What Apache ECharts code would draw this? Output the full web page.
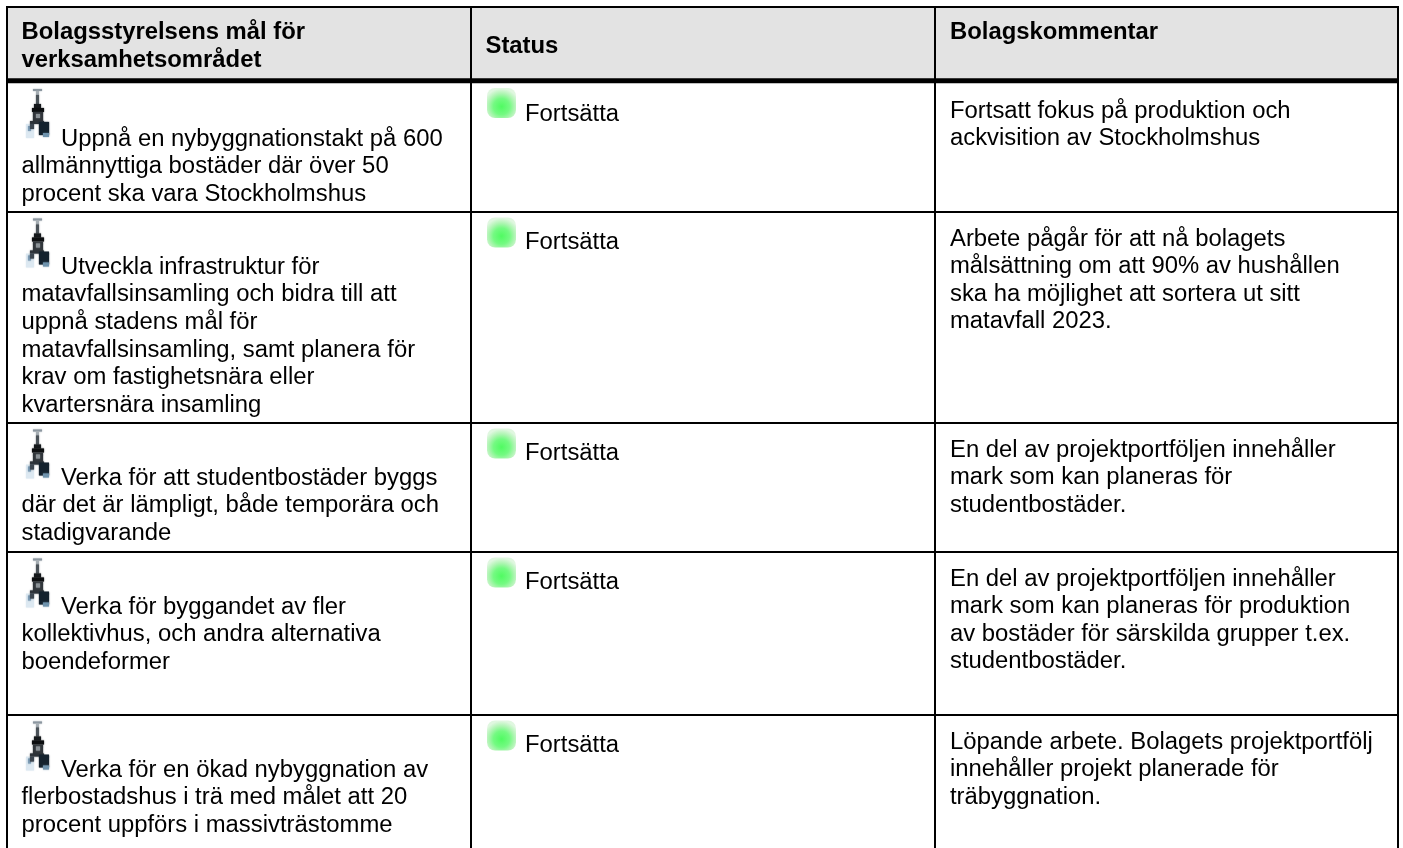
<!DOCTYPE html>
<html>
<head>
    <meta charset="utf-8">
    <title>Bolagsstyrelsens mål</title>
    <script src="https://cdn.jsdelivr.net/npm/echarts@6/dist/echarts.min.js"></script>
</head>
<style>
    *{
        margin: 0;
        padding: 0;
    }
    #main{
        width: 1403px;
        height: 848px;
    }
</style>
<body>
<div id="main"></div>
<script>
    // table content, line breaks as in the picture
    let headers = [
        ['Bolagsstyrelsens mål för', 'verksamhetsområdet'],
        ['Status'],
        ['Bolagskommentar']
    ];
    let goals = [
        ['Uppnå en nybyggnationstakt på 600', 'allmännyttiga bostäder där över 50', 'procent ska vara Stockholmshus'],
        ['Utveckla infrastruktur för', 'matavfallsinsamling och bidra till att', 'uppnå stadens mål för', 'matavfallsinsamling, samt planera för', 'krav om fastighetsnära eller', 'kvartersnära insamling'],
        ['Verka för att studentbostäder byggs', 'där det är lämpligt, både temporära och', 'stadigvarande'],
        ['Verka för byggandet av fler', 'kollektivhus, och andra alternativa', 'boendeformer'],
        ['Verka för en ökad nybyggnation av', 'flerbostadshus i trä med målet att 20', 'procent uppförs i massivträstomme']
    ];
    let statuses = ['Fortsätta', 'Fortsätta', 'Fortsätta', 'Fortsätta', 'Fortsätta'];
    let comments = [
        ['Fortsatt fokus på produktion och', 'ackvisition av Stockholmshus'],
        ['Arbete pågår för att nå bolagets', 'målsättning om att 90% av hushållen', 'ska ha möjlighet att sortera ut sitt', 'matavfall 2023.'],
        ['En del av projektportföljen innehåller', 'mark som kan planeras för', 'studentbostäder.'],
        ['En del av projektportföljen innehåller', 'mark som kan planeras för produktion', 'av bostäder för särskilda grupper t.ex.', 'studentbostäder.'],
        ['Löpande arbete. Bolagets projektportfölj', 'innehåller projekt planerade för', 'träbyggnation.']
    ];

    // layout, in axis units (1 unit = 1 px)
    let colEdges = [7, 471, 935, 1398];
    let rowEdges = [7, 81, 212, 423, 552, 715, 848];
    let lineGap = 27.6;
    let fontSize = 23.85;
    let baselineShift = 16; // text is placed by its top, y below is the baseline
    let font = '"Liberation Sans", Arial, sans-serif';

    let chart = echarts.init(document.getElementById('main'));

    function textEl(api, x, y, str, bold) {
        let p = api.coord([x, y - baselineShift]);
        return {
            type: 'text',
            x: p[0],
            y: p[1],
            style: {
                text: str,
                fill: '#000',
                font: (bold ? 'bold ' : '') + fontSize + 'px ' + font,
                textAlign: 'left',
                verticalAlign: 'top'
            }
        };
    }

    function linesEl(api, x, y, lines, bold, firstX) {
        return lines.map((s, i) => textEl(api, i == 0 && firstX ? firstX : x, y + i * lineGap, s, bold));
    }

    // small town hall tower, 25x50
    function towerEl(api, x, y) {
        let p = api.coord([x, y]);
        let r = (a, b, w, h, c) => ({type: 'rect', shape: {x: a, y: b, width: w, height: h}, style: {fill: c, shadowBlur: 1.5, shadowColor: c}});
        return {
            type: 'group',
            x: p[0],
            y: p[1],
            children: [
                r(1, 36, 8, 14, '#dce8f1'),
                r(3, 38, 3, 5, '#7d9cb5'),
                r(8, 1, 9, 2, '#8c97a0'),
                r(11, 3, 3, 4, '#a5adb3'),
                r(11, 7, 3, 9, '#4a5258'),
                r(9, 16, 7, 4, '#14181b'),
                r(7, 20, 12, 4, '#0c0e10'),
                r(8, 24, 10, 10, '#30353a'),
                r(11, 26, 4, 4, '#8a9196'),
                r(5, 33, 14, 3, '#2c3238'),
                r(5, 36, 4, 5, '#3c4650'),
                r(14, 34, 10, 13, '#14222e'),
                r(18, 45, 6, 4, '#6f93ad')
            ]
        };
    }

    // green status light, 29x30
    function lightEl(api, x, y) {
        let p = api.coord([x, y]);
        return {
            type: 'rect',
            x: p[0],
            y: p[1],
            shape: {x: 0, y: 0, width: 29, height: 30, r: 8},
            style: {
                fill: new echarts.graphic.RadialGradient(0.5, 0.62, 0.62, [
                    {offset: 0, color: '#50fb62'},
                    {offset: 0.45, color: '#74fa82'},
                    {offset: 0.72, color: '#aef5b2'},
                    {offset: 1, color: '#e0f7e0'}
                ])
            }
        };
    }

    function renderCell(params, api) {
        let col = api.value(0);
        let row = api.value(1);
        // inner top of the row: below the thick line for the first row
        let top = row == 0 ? 83.5 : rowEdges[row + 1] + 1;
        let children = [];
        if (row < 0) {
            let a = api.coord([colEdges[col], rowEdges[0]]);
            let b = api.coord([colEdges[col + 1], rowEdges[1]]);
            children.push({type: 'rect', shape: {x: a[0], y: a[1], width: b[0] - a[0], height: b[1] - a[1]}, style: {fill: '#e3e3e3'}});
            let ys = [36.5, 50.5, 36];
            let xs = [21.5, 485.5, 950];
            children = children.concat(linesEl(api, xs[col], ys[col], headers[col], true));
        } else if (col == 0) {
            children.push(towerEl(api, 25, top + 4.5));
            children = children.concat(linesEl(api, 21.5, top + (row == 0 ? 59.5 : 58.3), goals[row], false, 61));
        } else if (col == 1) {
            children.push(lightEl(api, 487, top + 4.5));
            children.push(textEl(api, 525, top + (row == 0 ? 34.5 : 33.5), statuses[row], false));
        } else {
            children = children.concat(linesEl(api, 950, top + (row == 0 ? 31.5 : 30), comments[row], false));
        }
        return {type: 'group', children};
    }

    function renderBorder(params, api) {
        // value: [isVertical, position, thickness]
        let t = api.value(2);
        let a, b;
        if (api.value(0)) {
            a = api.coord([api.value(1) - t / 2, rowEdges[0] - 1]);
            b = api.coord([api.value(1) + t / 2, rowEdges[rowEdges.length - 1]]);
        } else {
            a = api.coord([colEdges[0] - 1, api.value(1) - t / 2]);
            b = api.coord([colEdges[colEdges.length - 1] + 1, api.value(1) + t / 2]);
        }
        return {type: 'rect', shape: {x: a[0], y: a[1], width: b[0] - a[0], height: b[1] - a[1]}, style: {fill: '#000'}};
    }

    let cells = [];
    for (let r = -1; r < goals.length; r++) {
        for (let c = 0; c < headers.length; c++) {
            cells.push([c, r]);
        }
    }
    let borders = [];
    colEdges.forEach(x => borders.push([1, x, 2]));
    rowEdges.slice(0, -1).forEach((y, i) => borders.push([0, i == 1 ? 80.8 : y, i == 1 ? 5 : 2]));

    let option = {
        backgroundColor: '#fff',
        animation: false,
        grid: {left: 0, right: 0, top: 0, bottom: 0},
        xAxis: {type: 'value', min: 0, max: 1403, show: false},
        yAxis: {type: 'value', min: 0, max: 848, inverse: true, show: false},
        series: [
            {type: 'custom', silent: true, clip: false, renderItem: renderCell, data: cells, z: 1},
            {type: 'custom', silent: true, clip: false, renderItem: renderBorder, data: borders, z: 2}
        ]
    };
    chart.setOption(option);
</script>
</body>
</html>
